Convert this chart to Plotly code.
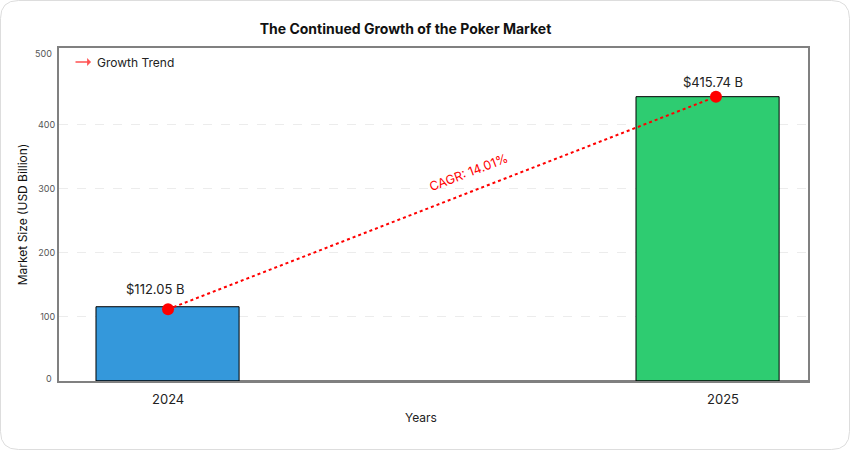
import plotly.graph_objects as go

# ---- data ----
years = ["2024", "2025"]
bar_heights = [116, 444]          # bar tops as drawn
trend_points = [112.05, 444]      # red markers on the trend line
value_labels = ["$112.05 B", "$415.74 B"]
cagr_text = "CAGR: 14.01%"
grid_ticks = [100, 200, 300, 400]
edge_ticks = [0, 500]             # labels drawn without grid lines

bar_colors = ["#3498db", "#2ecc71"]
FONT = "Inter, Roboto, sans-serif"

# plot area in pixels (850x450 page)
L, R, T, B = 59, 42, 48, 69
W, H = 850, 450
PW, PH = W - L - R, H - T - B


def px(xp):
    return (xp - L) / PW


def py(yp):
    return (H - B - yp) / PH


def rounded_rect(x0, y0, x1, y1, r):
    # path in paper coords from pixel corners
    rx, ry = r / PW, r / PH
    a, b, c, d = px(x0), py(y1), px(x1), py(y0)
    return (
        f"M {a + rx},{b} L {c - rx},{b} Q {c},{b} {c},{b + ry} "
        f"L {c},{d - ry} Q {c},{d} {c - rx},{d} "
        f"L {a + rx},{d} Q {a},{d} {a},{d - ry} "
        f"L {a},{b + ry} Q {a},{b} {a + rx},{b} Z"
    )


fig = go.Figure()

fig.add_trace(
    go.Bar(
        x=years, y=bar_heights, width=0.265,
        marker=dict(color=bar_colors, line=dict(color="black", width=1)),
        showlegend=False, hoverinfo="skip",
    )
)

fig.add_trace(
    go.Scatter(
        x=years, y=trend_points, mode="lines+markers", xaxis="x2",
        line=dict(color="red", width=2, dash="dot"),
        marker=dict(color="red", size=12),
        showlegend=False,
    )
)

annotations = []
# value labels above markers (category index on x2)
label_shift = [(-13, 20), (-3, 15)]
for i, (v, txt, (dx, dy)) in enumerate(zip(trend_points, value_labels, label_shift)):
    annotations.append(dict(
        x=i, y=v, xref="x2", yref="y", text=txt, showarrow=False,
        xshift=dx, yshift=dy, font=dict(size=13, color="#222", family=FONT),
    ))

# year labels under the axis
year_shift = [0, 7]
for i, (yr, dx) in enumerate(zip(years, year_shift)):
    annotations.append(dict(
        x=i, y=py(399), xref="x2", yref="paper", text=yr, showarrow=False,
        xshift=dx, yanchor="middle", font=dict(size=13, color="#222", family=FONT),
    ))

# 0 / 500 tick labels sit slightly inside the frame
edge_shift = [3, 7]
for v, dy in zip(edge_ticks, edge_shift):
    annotations.append(dict(
        x=0, y=v, xref="paper", yref="y", text=str(v), showarrow=False,
        xanchor="right", yanchor="middle", xshift=-5, yshift=dy,
        font=dict(size=9, color="#555", family=FONT),
    ))

annotations += [
    dict(x=px(421), y=py(417), xref="paper", yref="paper", text="Years",
         showarrow=False, yanchor="middle",
         font=dict(size=12, color="#222", family=FONT)),
    dict(x=px(468), y=py(172), xref="paper", yref="paper", text=cagr_text,
         showarrow=False, textangle=-21,
         font=dict(size=12.5, color="red", family=FONT)),
    # legend
    dict(x=px(91), y=py(62), xref="paper", yref="paper", text="",
         showarrow=True, ax=-17, ay=0, arrowhead=1, arrowsize=1,
         arrowwidth=1.3, arrowcolor="#ff5252"),
    dict(x=px(95), y=py(62), xref="paper", yref="paper", text="Growth Trend",
         showarrow=False, xanchor="left", yanchor="middle",
         font=dict(size=12, color="#222", family=FONT)),
]

shapes = [
    dict(type="path", xref="paper", yref="paper",
         path=rounded_rect(0.5, 0.5, 849.5, 449.5, 18),
         line=dict(color="#dddddd", width=1), layer="below"),
    dict(type="line", xref="paper", yref="y", x0=px(96), x1=1, y0=0, y1=0,
         line=dict(color="black", width=1)),
]

fig.update_layout(
    width=W, height=H,
    margin=dict(l=L, r=R, t=T, b=B),
    paper_bgcolor="white", plot_bgcolor="white",
    font=dict(family=FONT),
    title=dict(
        text="<b>The Continued Growth of the Poker Market</b>",
        x=405.5 / W, xanchor="center", xref="container",
        y=1 - 29 / H, yanchor="middle", yref="container",
        font=dict(size=14, color="#111", family=FONT, weight=600),
    ),
    xaxis=dict(
        type="category", range=[-0.201, 1.186],
        showticklabels=False, ticks="", showgrid=False,
        showline=True, mirror=True, linecolor="#808080", linewidth=2,
    ),
    xaxis2=dict(
        type="category", range=[-0.199, 1.168], overlaying="x",
        showticklabels=False, ticks="", showgrid=False, showline=False,
        zeroline=False,
    ),
    yaxis=dict(
        range=[0, 520], tickvals=grid_ticks, ticks="",
        tickfont=dict(size=9, color="#555", family=FONT),
        showgrid=True, gridcolor="#ececec", griddash="dash", gridwidth=1,
        zeroline=False,
        showline=True, mirror=True, linecolor="#808080", linewidth=2,
        title=dict(text="Market Size (USD Billion)", standoff=8,
                   font=dict(size=12, color="#111", family=FONT)),
    ),
    annotations=annotations,
    shapes=shapes,
)

fig.write_html(
    "out.html",
    config={"displayModeBar": False},
    post_script="document.body.style.margin='0';",
)
